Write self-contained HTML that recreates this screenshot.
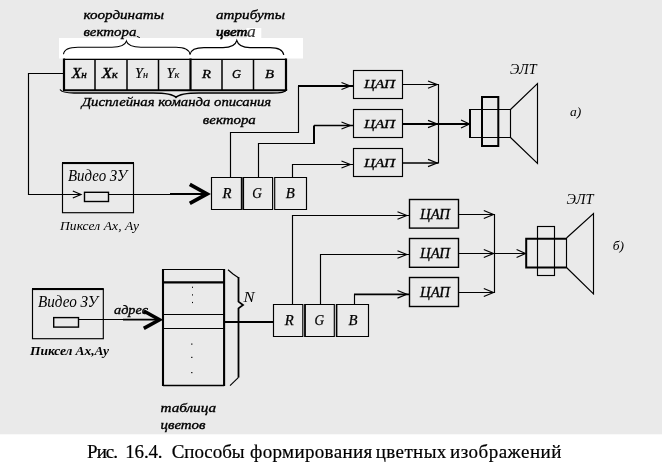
<!DOCTYPE html>
<html><head><meta charset="utf-8">
<style>
html,body{margin:0;padding:0;background:#fff;}
body{width:662px;height:471px;overflow:hidden;position:relative;font-family:"Liberation Serif",serif;}
svg{position:absolute;left:0;top:0;display:block}
text{font-family:"Liberation Serif",serif;font-style:italic;fill:#000}
.t{font-size:13.5px;stroke:#000;stroke-width:0.35px}
.b{font-weight:bold}
.t .v{font-size:16px;stroke:none}
svg{filter:grayscale(1)}
.cap{font-style:normal;font-size:19px;stroke:#000;stroke-width:0.2px}
</style></head><body>
<svg width="662" height="471" viewBox="0 0 662 471">
<rect x="0" y="0" width="662" height="434.5" fill="#eaeaea"/>
<rect x="0" y="434.5" width="662" height="36.5" fill="#ffffff"/>
<rect x="59" y="38" width="244" height="20.5" fill="#ffffff"/>
<rect x="246.5" y="28" width="14.8" height="10.5" fill="#ffffff"/>

<g fill="none" stroke="#000" stroke-width="1.1">
<!-- top braces -->
<path d="M63.5 54.2 C64 49.5 69 47.2 78 47.2 L112 47.2 C120 47.2 125 46 126.4 41.2 C127.8 46 133 47.2 141 47.2 L176 47.2 C185 47.2 189.3 49.5 190 54.5"/>
<path d="M190 54.5 C190.8 49.8 195.5 47.6 204 47.6 L223 47.6 C231 47.6 235.3 46 236.8 40.5 C238.3 46 243 47.6 250 47.6 L270 47.6 C279 47.6 283 50 283.8 55"/>
<path d="M136.8 36.3 L139.8 37.6" stroke-width="1"/>
<!-- bottom brace -->
<path d="M60 89.5 C62 92.5 66 93 74 93 L153 93 C166 93 173 94 176 97.5 C179 94 186 93 199 93 L272 93 C281 93 285 92.5 287 89.5" stroke-width="1.3"/>
</g>

<!-- top command boxes -->
<g fill="none" stroke="#000">
<path d="M64 59.3 H286" stroke-width="1.3"/><path d="M64 90.3 H286" stroke-width="2"/>
<path d="M64 58.5 V91 M190.5 58.5 V91 M286 58.5 V91" stroke-width="2.2"/>
<path d="M95 59 V90 M127 59 V90 M158.5 59 V90 M222 59 V90 M253.5 59 V90" stroke-width="1.5"/>
</g>

<!-- wires upper diagram -->
<g fill="none" stroke="#000" stroke-width="1.15">
<path d="M64 73.5 H28.5 V194.5 H80"/>
<path d="M72.8 191 L81 194.5 L72.8 198"/>
<path d="M109 194.5 H172"/>
<rect x="62.5" y="163.5" width="71" height="49.2"/>
<path d="M62 163 H134" stroke-width="2"/>
<rect x="84.5" y="192.3" width="24" height="9.2" fill="#eaeaea" stroke-width="1.4"/>
<!-- RGB boxes -->
<path d="M211.5 177.5 H241.4 V209.5 H211.5 Z"/>
<path d="M243.2 177.5 H272.6 V209.5 H243.2"/>
<path d="M243.2 177 V210" stroke-width="1.8"/>
<path d="M274.7 177.5 H306.5 V209.5 H274.7 Z"/>
<!-- R to DAC1 -->
<path d="M230.5 177.5 V132.5 H298.5 V86"/>
<path d="M298 86 H353.5" stroke-width="2"/>
<!-- G to DAC2 -->
<path d="M258.5 177.5 V143.5 H313"/>
<path d="M314 144 V125.5" stroke-width="2"/>
<path d="M314 125.5 H353" stroke-width="1.4"/>
<!-- B to DAC3 -->
<path d="M292.5 177.5 V164.5 H353"/>
<!-- DAC boxes -->
<rect x="353.5" y="70.5" width="49" height="28"/>
<rect x="353.5" y="109.5" width="49" height="28"/>
<rect x="353.5" y="148.5" width="49" height="28"/>
<!-- input arrowheads -->
<path d="M341.5 82.5 L350.3 86 L341.5 89.5"/>
<path d="M341.5 122.0 L350.3 125.5 L341.5 129"/>
<path d="M341.5 161 L350.3 164.5 L341.5 168"/>
<!-- outputs -->
<path d="M402.5 84.5 H438.5 V163.5"/>
<path d="M403 163 H438" stroke-width="1.7"/>
<path d="M403 124 H469.5" stroke-width="2"/>
<path d="M428 81 L437.2 84.6 L428 88.2"/>
<path d="M428 120.4 L437.2 124 L428 127.6"/>
<path d="M428 159.4 L437.2 163 L428 166.6"/>
<path d="M461 120 L469.5 124 L461 128"/>
<!-- CRT a -->
<path d="M469.5 109.5 H510.5 V137.5 H469.5"/>
<path d="M470 109 V138" stroke-width="2"/>
<rect x="482" y="97" width="16.3" height="49" stroke-width="2"/>
<path d="M510.5 109.5 L537.5 83.5 V163.5 L510.5 137.5"/>
</g>
<!-- thick arrow a -->
<g fill="none" stroke="#000">
<path d="M170 194 H208" stroke-width="1.8"/>
<path d="M189.8 184.4 L207 193.9 L189.8 203.4" stroke-width="3.8" stroke-linejoin="miter"/>
</g>

<!-- lower diagram -->
<g fill="none" stroke="#000" stroke-width="1.15">
<rect x="32.5" y="289.5" width="70.8" height="49.2"/>
<path d="M32 289 H103.8" stroke-width="2"/>
<rect x="53.7" y="317.6" width="24.8" height="9.5" stroke-width="1.4"/>
<path d="M78.6 319.5 H160"/>
<!-- table -->
<path d="M163 269.5 H224.2" stroke-width="1.15"/><path d="M163 385.4 H224.2" stroke-width="1.5"/>
<path d="M163 269 V386 M224.1 269 V386" stroke-width="2.1"/>
<path d="M163 282.4 H224" stroke-width="2.1"/>
<path d="M163 314.5 H224 M163 328.5 H224" stroke-width="1.1"/>
<!-- brace right -->
<path d="M228 269.7 L233 274 L238.5 277.8"/>
<path d="M238.5 277 V301.6 L243 305 L238.5 308.4 V377.4" stroke-width="1.8"/>
<path d="M238.5 377.4 L230 385.6"/>
<!-- table -> R -->
<path d="M224 322 H273.5" stroke-width="2"/>
<!-- RGB lower -->
<path d="M273.5 304.5 H302.8 V336.5 H273.5 Z"/>
<path d="M305 304.5 H334.3 V336.5 H305"/>
<path d="M305 304 V337" stroke-width="1.8"/>
<path d="M336.6 304.5 H368.5 V336.5 H336.6"/>
<path d="M336.6 304 V337" stroke-width="1.6"/>
<!-- wires to DAC -->
<path d="M292.5 304.5 V215.5 H409"/>
<path d="M320.5 304.5 V254.5 H409"/>
<path d="M354.5 304.5 V294.3"/>
<path d="M354 294.3 H409" stroke-width="1.8"/>
<path d="M397.5 211.7 L406.8 215.5 L397.5 219.3"/>
<path d="M397.5 250.7 L406.8 254.5 L397.5 258.3"/>
<path d="M397.5 290.5 L406.8 294.3 L397.5 298.1"/>
<!-- DAC lower -->
<rect x="409.5" y="199.5" width="49" height="28.6" stroke-width="1.4"/>
<rect x="409.5" y="238.5" width="49" height="28.8" stroke-width="1.4"/>
<rect x="409.5" y="277.5" width="49" height="29" stroke-width="1.4"/>
<!-- outputs -->
<path d="M459 214.5 H494.5 V292.5 H459"/>
<path d="M459 253.5 H526"/>
<path d="M483.8 210.5 L493.5 214.5 L483.8 218.5"/>
<path d="M483.8 249.5 L493.5 253.5 L483.8 257.5"/>
<path d="M483.8 288.5 L493.5 292.5 L483.8 296.5"/>
<path d="M516.6 249.5 L525.5 253.5 L516.6 257.5"/>
<!-- CRT b -->
<path d="M566.5 238.8 H526.2 V267.4 H566.5" stroke-width="2"/><path d="M566.5 238 V268"/>
<rect x="537.5" y="226.5" width="17" height="49"/>
<path d="M566.5 238 L593.5 213.5 V294 L566.5 267.5"/>
</g>
<g fill="none" stroke="#000">
<path d="M123 319.7 H160" stroke-width="1.8"/>
<path d="M143.8 311 L159.5 319.7 L143.8 328.4" stroke-width="3.6"/>
</g>
<!-- dots -->
<g fill="#000">
<rect x="192" y="286.7" width="1" height="1.2"/><rect x="192" y="294.3" width="1" height="1.2"/><rect x="192" y="301.9" width="1" height="1.2"/>
<rect x="191.2" y="343.5" width="1.2" height="1.2"/><rect x="191.2" y="356.8" width="1.2" height="1.2"/><rect x="191.2" y="372" width="1.2" height="1.2"/>
</g>

<!-- TEXT -->
<g class="t">
<text x="83.4" y="19.3" textLength="80.5" lengthAdjust="spacingAndGlyphs">координаты</text>
<text x="83.4" y="36.3" textLength="53" lengthAdjust="spacingAndGlyphs">вектора</text>
<text x="216" y="19.3" textLength="69" lengthAdjust="spacingAndGlyphs">атрибуты</text>
<text x="216" y="36.3" textLength="31.5" lengthAdjust="spacingAndGlyphs" style="stroke-width:0.6px">цвет</text>
<text x="247" y="36.6" style="fill:#333;stroke:#333;stroke-width:0.2px;font-size:17.5px">а</text>
<text x="81.7" y="106.2" textLength="189.5" lengthAdjust="spacingAndGlyphs">Дисплейная команда описания</text>
<text x="202.8" y="124.4" textLength="53" lengthAdjust="spacingAndGlyphs">вектора</text>

<text x="68" y="181" textLength="59" lengthAdjust="spacingAndGlyphs" class="v">Видео ЗУ</text>
<text x="38" y="307" textLength="60" lengthAdjust="spacingAndGlyphs" class="v">Видео ЗУ</text>
<text x="114" y="314.2" textLength="34" lengthAdjust="spacingAndGlyphs">адрес</text>
<text x="160.5" y="411.8" textLength="55.5" lengthAdjust="spacingAndGlyphs" style="font-size:12.4px">таблица</text>
<text x="160.5" y="428.6" textLength="45" lengthAdjust="spacingAndGlyphs" style="font-size:12.4px">цветов</text>
</g>
<g style="font-size:13.5px">
<text x="60" y="230" textLength="79" lengthAdjust="spacing">Пиксел Ах, Ау</text>
<text x="30" y="355.3" textLength="79" lengthAdjust="spacing" class="b">Пиксел Ах,Ау</text>
<text x="510" y="73.9" textLength="26.5" lengthAdjust="spacingAndGlyphs" style="font-size:14.5px">ЭЛТ</text>
<text x="566.5" y="203.7" textLength="27" lengthAdjust="spacingAndGlyphs" style="font-size:14.5px">ЭЛТ</text>
<text x="570" y="115.7">а)</text>
<text x="612.8" y="249.9">б)</text>
<text x="243.5" y="301.8" textLength="11" lengthAdjust="spacingAndGlyphs" style="font-size:14px">N</text>
</g>
<!-- box labels -->
<g style="font-size:14px;stroke:#000;stroke-width:0.4px">
<text x="71.8" y="77.5" textLength="15" lengthAdjust="spacingAndGlyphs">X<tspan style="font-size:10px">н</tspan></text>
<text x="101.8" y="77.5" textLength="16" lengthAdjust="spacingAndGlyphs">X<tspan style="font-size:10px">к</tspan></text>
<text x="135" y="77.5" textLength="13" lengthAdjust="spacingAndGlyphs" style="stroke-width:0.15px">Y<tspan style="font-size:10px">н</tspan></text>
<text x="166.5" y="77.5" textLength="13" lengthAdjust="spacingAndGlyphs" style="stroke-width:0.15px">Y<tspan style="font-size:10px">к</tspan></text>
</g>
<g style="font-size:11.5px;stroke:#000;stroke-width:0.3px">
<text x="202" y="78" textLength="9" lengthAdjust="spacingAndGlyphs">R</text><text x="232" y="78" textLength="9" lengthAdjust="spacingAndGlyphs">G</text><text x="265" y="78" textLength="9" lengthAdjust="spacingAndGlyphs">B</text>
</g>
<g style="font-size:14px;stroke:#000;stroke-width:0.25px">
<text x="222.4" y="197.8" textLength="9" lengthAdjust="spacingAndGlyphs">R</text><text x="252.3" y="197.8" textLength="9.6" lengthAdjust="spacingAndGlyphs">G</text><text x="285.8" y="197.8" textLength="9" lengthAdjust="spacingAndGlyphs">B</text>
<text x="284.7" y="325" textLength="9" lengthAdjust="spacingAndGlyphs">R</text><text x="314.5" y="325" textLength="9.6" lengthAdjust="spacingAndGlyphs">G</text><text x="348.4" y="325" textLength="9" lengthAdjust="spacingAndGlyphs">B</text>
</g>
<g style="font-size:13.3px;stroke:#000;stroke-width:0.3px">
<text x="364" y="88.4" textLength="31" lengthAdjust="spacingAndGlyphs">ЦАП</text>
<text x="364" y="127.5" textLength="31" lengthAdjust="spacingAndGlyphs">ЦАП</text>
<text x="364" y="166.6" textLength="31" lengthAdjust="spacingAndGlyphs">ЦАП</text>
<text x="420" y="219.0" textLength="30" lengthAdjust="spacingAndGlyphs" style="font-size:14.6px">ЦАП</text>
<text x="420" y="258.1" textLength="30" lengthAdjust="spacingAndGlyphs" style="font-size:14.6px">ЦАП</text>
<text x="420" y="297.0" textLength="30" lengthAdjust="spacingAndGlyphs" style="font-size:14.6px">ЦАП</text>
</g>
<text class="cap" x="87.0" y="457.8" textLength="31.1" lengthAdjust="spacing">Рис.</text>
<text class="cap" x="125.2" y="457.8" textLength="37.4" lengthAdjust="spacing">16.4.</text>
<text class="cap" x="171.7" y="457.8" textLength="72.8" lengthAdjust="spacing">Способы</text>
<text class="cap" x="250.0" y="457.8" textLength="122.2" lengthAdjust="spacing">формирования</text>
<text class="cap" x="375.8" y="457.8" textLength="70.5" lengthAdjust="spacing">цветных</text>
<text class="cap" x="450.0" y="457.8" textLength="111.4" lengthAdjust="spacing">изображений</text>

</svg>
</body></html>
